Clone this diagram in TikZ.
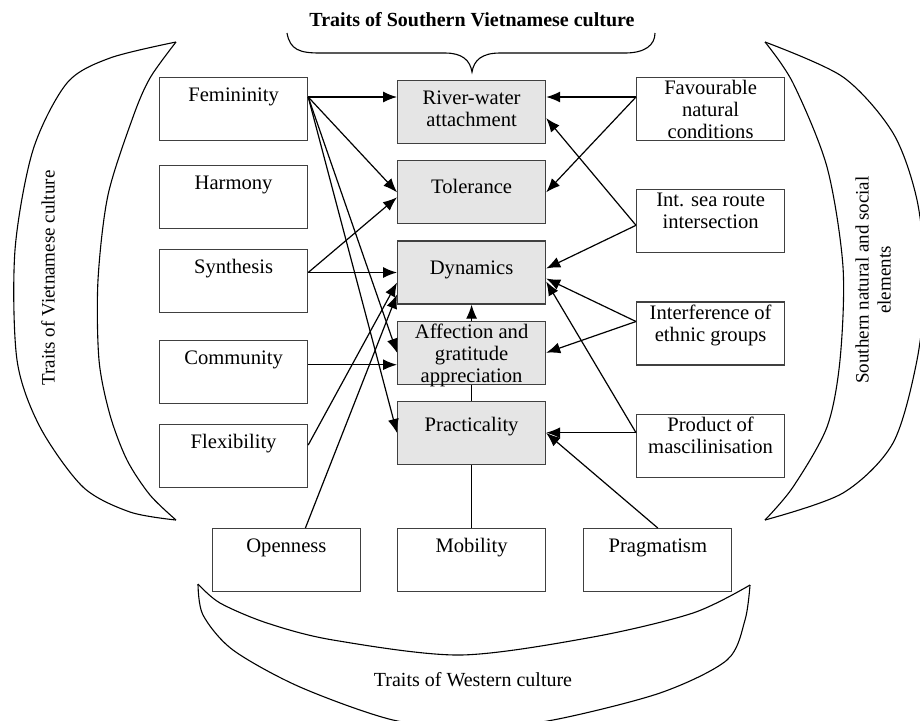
\documentclass[tikz,border=0pt]{standalone}
\usepackage{fontspec}
\setmainfont{Liberation Serif}
\usetikzlibrary{positioning, arrows.meta}
\tikzset{
    box_trait/.style={rectangle, draw=black!75, line width=0.6pt, inner sep=0pt, anchor=north west,
        execute at begin node={\begin{minipage}[t][31.5pt][t]{74pt}\centering\fontsize{10.3}{11}\selectfont\rule{0pt}{#1}},
        execute at end node={\end{minipage}}},
    box_trait/.default=12pt,
    box_core/.style={box_trait=#1, fill=black!10},
    box_core/.default=12pt,
    box_south/.style={box_trait=8.5pt},
    flecha/.style={-{Latex[length=7pt,width=5.5pt]}, line width=0.6pt},
    enlace/.style={line width=0.6pt},
    arco/.style={line width=0.55pt}
}
\begin{document}
\begin{tikzpicture}[x=0.5pt, y=-0.5pt, font=\fontsize{10}{11}\selectfont]
    \useasboundingbox (0,0) rectangle (920,720);
    \clip (0,0) rectangle (920,720);

    % Vietnamese traits
    \node[box_trait] (fem) at (159,77) {Femininity};
    \node[box_trait] (harm) at (159,165) {Harmony};
    \node[box_trait] (syn) at (159,249) {Synthesis};
    \node[box_trait] (com) at (159,340) {Community};
    \node[box_trait] (flex) at (159,424) {Flexibility};

    % Southern traits
    \node[box_core] (river) at (397,80) {River-water\\attachment};
    \node[box_core=16.5pt, below=8pt of river] (tol) {Tolerance};
    \node[box_core=16.5pt, below=8pt of tol] (dyn) {Dynamics};
    \node[box_core=8.5pt, below=8pt of dyn] (aff) {Affection and\\gratitude\\appreciation};
    \node[box_core=15pt, below=8pt of aff] (prac) {Practicality};

    % natural and social elements
    \node[box_south] (fav) at (636,77) {Favourable\\natural\\conditions};
    \node[box_south, below=24pt of fav] (sea) {Int. sea route\\intersection};
    \node[box_south, below=24pt of sea] (inter) {Interference of\\ethnic groups};
    \node[box_south, below=24pt of inter] (prod) {Product of\\mascilinisation};

    % Western traits
    \node[box_trait, below=31.5pt of prac] (mob) {Mobility};
    \node[box_trait, left=18pt of mob] (open) {Openness};
    \node[box_trait, right=18.5pt of mob] (prag) {Pragmatism};

    % group labels
    \node[font=\fontsize{10}{11}\selectfont\bfseries] (southtitle) at (472,20) {Traits of Southern Vietnamese culture};
    \node[rotate=90, font=\fontsize{9.5}{11}\selectfont] (viettitle) at (48,278) {Traits of Vietnamese culture};
    \node[rotate=90, align=center, font=\fontsize{9.5}{11}\selectfont] (elemtitle) at (873,280) {Southern natural and social\\elements};
    \node (westtitle) at (473,680) {Traits of Western culture};

    % brace and crescents
    \draw[arco] (287,33) .. controls (290,50) and (300,53) .. (320,53) -- (445,53)
        .. controls (462,53) and (470,60) .. (472,72)
        .. controls (474,60) and (482,53) .. (500,53) -- (625,53)
        .. controls (645,53) and (655,45) .. (655,33);
    \draw[arco] plot[smooth] coordinates {(176,42) (110,58) (67,83) (33,150) (15,250) (17,360) (40,427) (83,487) (130,512) (176,520)};
    \draw[arco] plot[smooth] coordinates {(176,42) (150,78) (133,117) (108,195) (98,280) (99,360) (110,415) (127,460) (150,495) (176,520)};
    \draw[arco] plot[smooth] coordinates {(765,42) (843,77) (893,133) (917,200) (925,280) (917,360) (893,443) (843,493) (765,520)};
    \draw[arco] plot[smooth] coordinates {(765,42) (793,83) (827,167) (843,267) (840,360) (827,427) (793,487) (765,520)};
    \draw[arco] plot[smooth] coordinates {(198,584) (220,603) (267,623) (333,640) (460,655) (593,637) (693,613) (750,585)};
    \draw[arco] plot[smooth] coordinates {(198,584) (203,615) (233,650) (300,687) (393,720) (474,728) (553,720) (660,693) (727,660) (745,620) (750,585)};

    % left arrows
    \draw[flecha] ([yshift=-10pt]fem.north east) -- ([yshift=-8.5pt]river.north west);
    \draw[flecha] ([yshift=-10pt]fem.north east) -- (tol.west);
    \draw[flecha] ([yshift=-10pt]fem.north east) -- (aff.west);
    \draw[flecha] ([yshift=-10pt]fem.north east) -- (prac.west);
    \draw[flecha] (syn.east |- dyn.west) -- (dyn.west);
    \draw[flecha] (syn.east |- dyn.west) -- ([yshift=-2.5pt]tol.west);
    \draw[flecha] ([yshift=-6pt]aff.west -| com.east) -- ([yshift=-6pt]aff.west);
    \draw[flecha] ([yshift=-10.5pt]flex.north east) -- ([yshift=-5pt]dyn.west);
    \draw[flecha] ([xshift=9.5pt]open.north) -- ([yshift=-11pt]dyn.west);

    % centre column
    \draw[flecha] (aff.north) -- (dyn.south);
    \draw[enlace] (aff.south) -- (prac.north);
    \draw[enlace] (prac.south) -- (mob.north);

    % right arrows
    \draw[flecha] ([yshift=-10pt]fav.north west) -- ([yshift=-10pt]fav.north west -| river.east);
    \draw[flecha] ([yshift=-10pt]fav.north west) -- (tol.east);
    \draw[flecha] ([yshift=-2pt]sea.west) -- ([yshift=-3pt]river.east);
    \draw[flecha] ([yshift=-2pt]sea.west) -- ([yshift=2pt]dyn.east);
    \draw[flecha] ([yshift=6pt]inter.west) -- ([yshift=-3pt]dyn.east);
    \draw[flecha] ([yshift=6pt]inter.west) -- (aff.east);
    \draw[flecha] ([yshift=6.5pt]prod.west) -- ([yshift=-4.5pt]dyn.east);
    \draw[flecha] ([yshift=6.5pt]prod.west) -- ([yshift=6.5pt]prod.west -| prac.east);
    \draw[flecha] (prag.north) -- (prac.east);
\end{tikzpicture}
\end{document}
